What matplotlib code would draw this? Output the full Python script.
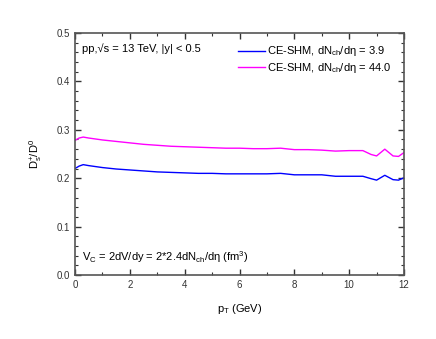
import numpy as np
import matplotlib
matplotlib.use('Agg')
import matplotlib.pyplot as plt
from matplotlib.ticker import MultipleLocator

plt.rcParams['font.family'] = ['Liberation Sans', 'DejaVu Sans']
plt.rcParams['mathtext.fontset'] = 'custom'
plt.rcParams['mathtext.rm'] = 'Liberation Sans'
plt.rcParams['mathtext.it'] = 'Liberation Sans'

# data
pt = [0.0, 0.15, 0.3, 0.5, 0.75, 1.0, 1.5, 2.0, 2.5, 3.0, 3.5, 4.0, 4.5, 5.0, 5.5,
      6.0, 6.5, 7.0, 7.5, 8.0, 8.5, 9.0, 9.5, 10.0, 10.5, 10.8, 11.0, 11.3,
      11.6, 11.8, 12.0]
ratio_low = [0.220, 0.225, 0.228, 0.226, 0.224, 0.222, 0.219, 0.217, 0.215, 0.213,
             0.212, 0.211, 0.210, 0.210, 0.209, 0.209, 0.209, 0.209, 0.210, 0.207,
             0.207, 0.207, 0.204, 0.204, 0.204, 0.199, 0.196, 0.206, 0.197,
             0.196, 0.201]
ratio_high = [0.278, 0.283, 0.285, 0.283, 0.281, 0.279, 0.276, 0.273, 0.270, 0.268,
              0.266, 0.265, 0.264, 0.263, 0.262, 0.262, 0.261, 0.261, 0.262, 0.259,
              0.259, 0.258, 0.256, 0.257, 0.257, 0.249, 0.246, 0.260, 0.246,
              0.245, 0.253]

fig = plt.figure(figsize=(4.36, 3.39), dpi=100)
ax = fig.add_axes([75 / 436, 1 - 275 / 339, 329 / 436, 242 / 339])

ax.plot(pt, ratio_low, color='#0000ff', lw=1.0,
        label=r'CE-SHM, dN$_{\mathrm{ch}}$/d$\eta$ = 3.9')
ax.plot(pt, ratio_high, color='#ff00ff', lw=1.0,
        label=r'CE-SHM, dN$_{\mathrm{ch}}$/d$\eta$ = 44.0')

ax.set_xlim(0, 12)
ax.set_ylim(0, 0.5)
ax.xaxis.set_major_locator(MultipleLocator(2))
ax.xaxis.set_minor_locator(MultipleLocator(1))
ax.yaxis.set_major_locator(MultipleLocator(0.1))
ax.yaxis.set_minor_locator(MultipleLocator(0.02))
ax.tick_params(which='both', direction='in', top=True, right=True, labelsize=7, colors='#333333')
ax.tick_params(which='major', length=4, width=1.0)
ax.tick_params(which='minor', length=2, width=0.8)
for sp in ax.spines.values():
    sp.set_color('#555555')
    sp.set_linewidth(1.2)

ax.set_xlabel(r'p$_{\mathrm{T}}$ (GeV)', fontsize=8, labelpad=9)
ax.set_ylabel(r'D$_\mathrm{s}^{+}$/D$^0$', fontsize=8, labelpad=9)

ax.text(0.02, 0.935, 'pp,\u221as = 13 TeV, |y| < 0.5', transform=ax.transAxes,
        fontsize=8, va='center')
ax.text(0.02, 0.075, r'V$_\mathrm{C}$ = 2dV/dy = 2*2.4dN$_\mathrm{ch}$/d$\eta$ (fm$^3$)',
        transform=ax.transAxes, fontsize=8, va='center')

ax.legend(loc='upper right', bbox_to_anchor=(0.985, 0.985), frameon=False, fontsize=8,
          handlelength=2.4, handletextpad=0.2, labelspacing=0.25, borderaxespad=0.3)

fig.savefig('out.png', dpi=100)
